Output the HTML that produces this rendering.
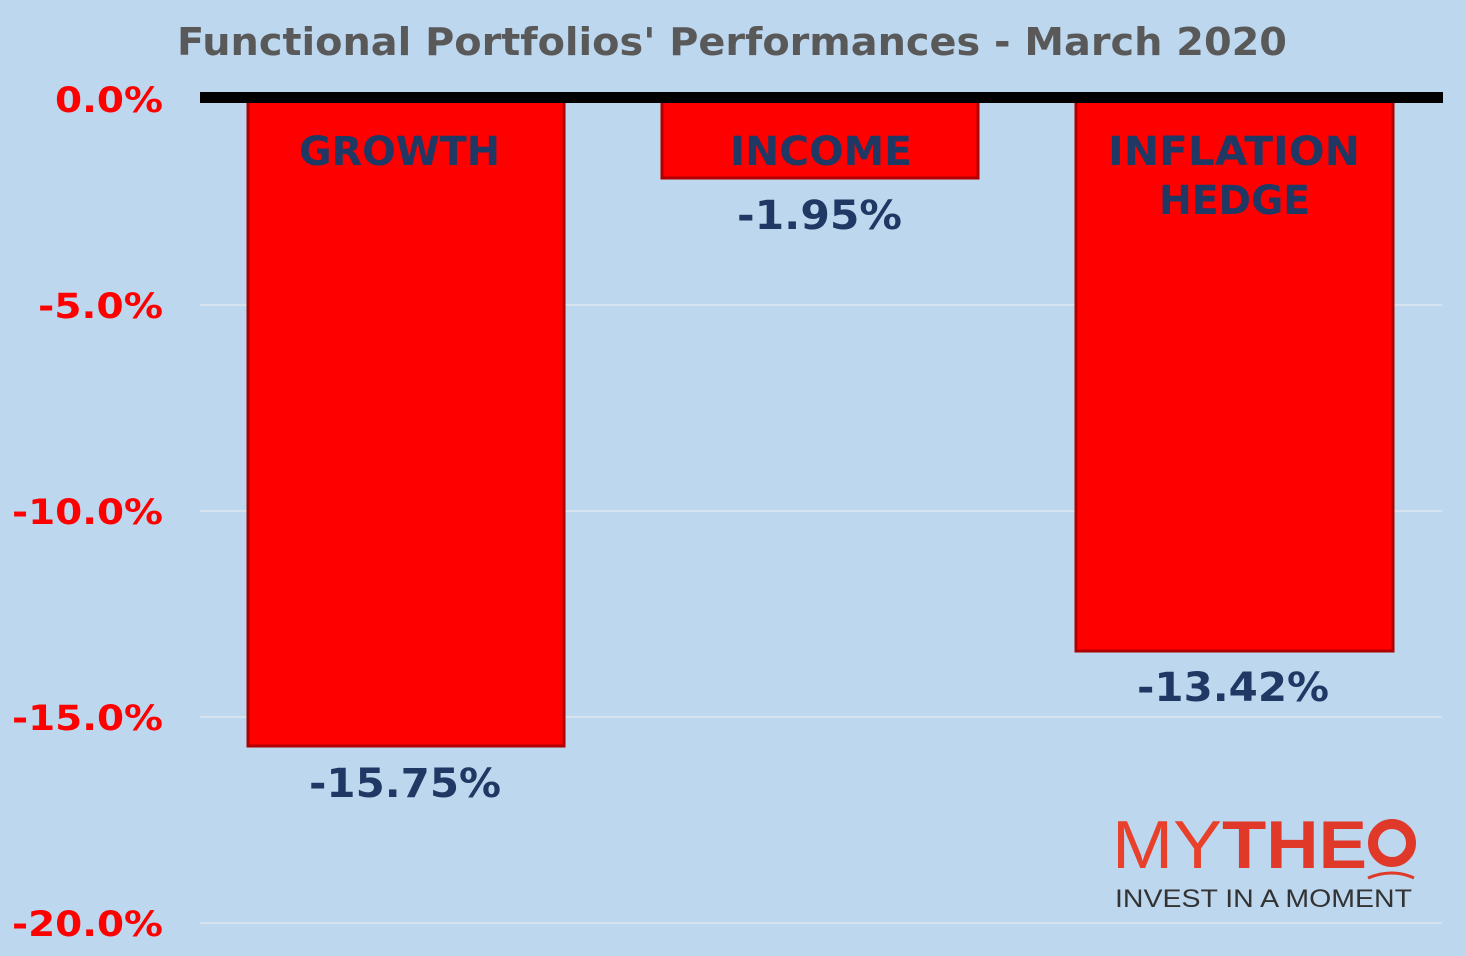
<!DOCTYPE html>
<html><head><style>body{margin:0;background:#bdd7ee}svg{display:block}</style></head><body>
<svg width="1466" height="956" xmlns="http://www.w3.org/2000/svg" font-family="'DejaVu Sans', Verdana, sans-serif" font-weight="bold">
<rect width="1466" height="956" fill="#bdd7ee"/>
<text x="177" y="55" font-size="38" fill="#595959" textLength="1110" lengthAdjust="spacingAndGlyphs">Functional Portfolios' Performances - March 2020</text>
<g stroke="#d6e2ee" stroke-width="2">
<line x1="200" y1="305" x2="1442" y2="305"/><line x1="200" y1="511" x2="1442" y2="511"/>
<line x1="200" y1="717" x2="1442" y2="717"/><line x1="200" y1="923" x2="1442" y2="923"/></g>
<g font-size="35" fill="#ff0000">
<text x="55" y="112" textLength="108" lengthAdjust="spacingAndGlyphs">0.0%</text>
<text x="38" y="318" textLength="125" lengthAdjust="spacingAndGlyphs">-5.0%</text>
<text x="12" y="524" textLength="151" lengthAdjust="spacingAndGlyphs">-10.0%</text>
<text x="12" y="730" textLength="151" lengthAdjust="spacingAndGlyphs">-15.0%</text>
<text x="12" y="936" textLength="151" lengthAdjust="spacingAndGlyphs">-20.0%</text></g>
<g fill="#ff0000" stroke="#b00000" stroke-width="3">
<rect x="248" y="100" width="316" height="646"/>
<rect x="662" y="100" width="316" height="78"/>
<rect x="1076" y="100" width="317" height="551"/></g>
<rect x="200" y="92" width="1243" height="11" fill="#000"/>
<g fill="#1f3864" font-size="40" lengthAdjust="spacingAndGlyphs">
<text x="299" y="165" textLength="201" lengthAdjust="spacingAndGlyphs">GROWTH</text>
<text x="730" y="165" textLength="182" lengthAdjust="spacingAndGlyphs">INCOME</text>
<text x="1108" y="165" textLength="252" lengthAdjust="spacingAndGlyphs">INFLATION</text>
<text x="1159" y="214" textLength="151" lengthAdjust="spacingAndGlyphs">HEDGE</text>
<text x="737" y="229" textLength="165" lengthAdjust="spacingAndGlyphs">-1.95%</text>
<text x="309" y="797" textLength="192" lengthAdjust="spacingAndGlyphs">-15.75%</text>
<text x="1137" y="701" textLength="192" lengthAdjust="spacingAndGlyphs">-13.42%</text></g>
<g font-family="'Liberation Sans', sans-serif">
<text x="1112" y="868" font-size="68" font-weight="normal" fill="#e8402a" textLength="110" lengthAdjust="spacingAndGlyphs">MY</text>
<text x="1222" y="868" font-size="68" font-weight="bold" fill="#e0392a" textLength="145" lengthAdjust="spacingAndGlyphs">THE</text>
<circle cx="1392" cy="843" r="19" fill="none" stroke="#e0392a" stroke-width="10"/>
<path d="M1368 878 Q1392 868 1414 878" fill="none" stroke="#e0392a" stroke-width="3"/>
<text x="1115" y="907" font-size="25" font-weight="normal" fill="#333" textLength="297" lengthAdjust="spacingAndGlyphs">INVEST IN A MOMENT</text>
</g>
</svg>
</body></html>
